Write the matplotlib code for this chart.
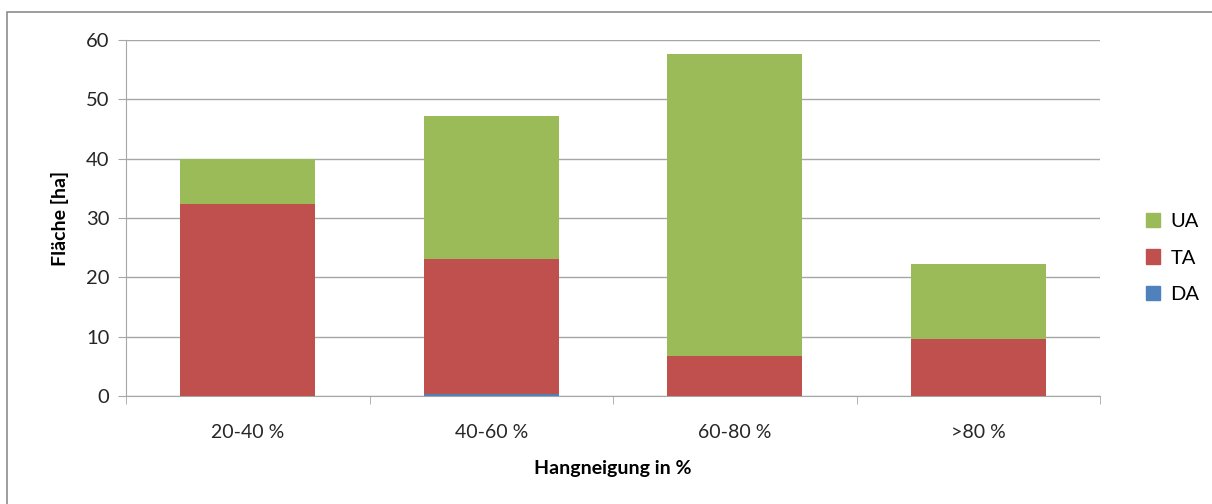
import matplotlib
matplotlib.use("Agg")
import matplotlib.pyplot as plt
from matplotlib.patches import Rectangle, Patch
import numpy as np

# Data
categories = ["20-40 %", "40-60 %", "60-80 %", ">80 %"]
da = [0.0, 0.3, 0.0, 0.0]
ta = [32.4, 22.8, 6.8, 9.6]
ua = [7.5, 24.1, 50.9, 12.6]

plt.rcParams['font.family'] = ['Lato', 'DejaVu Sans']

fig = plt.figure(figsize=(12.12, 5.04), dpi=100)
ax = fig.add_axes([126 / 1212, 1 - 396 / 504, (1100 - 126) / 1212, (396 - 40) / 504])

x = np.arange(len(categories))
width = 0.555
c_da, c_ta, c_ua = '#4F81BD', '#C0504D', '#9BBB59'

ax.bar(x, da, width, color=c_da, zorder=3)
ax.bar(x, ta, width, bottom=da, color=c_ta, zorder=3)
bottom_ua = np.array(da) + np.array(ta)
ax.bar(x, ua, width, bottom=bottom_ua, color=c_ua, zorder=3)

ax.set_xlim(-0.5, len(categories) - 0.5)
ax.set_ylim(0, 60)
ax.set_yticks(range(0, 61, 10))
ax.yaxis.grid(True, color='#A6A6A6', linewidth=1.0, zorder=0)

ax.set_xticks(x)
ax.set_xticklabels(categories, fontsize=14, color='#262626')
ax.set_xticks(np.arange(-0.5, len(categories)), minor=True)
ax.tick_params(axis='x', which='major', length=0, pad=20)
ax.tick_params(axis='x', which='minor', length=6, color='#A6A6A6', direction='out')
ax.tick_params(axis='y', length=6, color='#A6A6A6', labelsize=14.5, labelcolor='#262626', pad=6)

for side in ['top', 'right']:
    ax.spines[side].set_visible(False)
for side in ['left', 'bottom']:
    ax.spines[side].set_color('#A6A6A6')

ax.set_ylabel('Fläche [ha]', fontsize=14, fontweight='bold', labelpad=12)
ax.set_xlabel('Hangneigung in %', fontsize=14, fontweight='bold', labelpad=14)

handles = [Patch(color=c_ua, label='UA'), Patch(color=c_ta, label='TA'), Patch(color=c_da, label='DA')]
fig.legend(handles=handles, loc='center left', bbox_to_anchor=(1128 / 1212, 1 - 258 / 504),
           frameon=False, fontsize=14.5, handlelength=0.7, handleheight=0.7,
           handletextpad=0.5, labelspacing=0.95)

# outer chart border
fig.patches.append(Rectangle((7 / 1212, -0.01), 1.02, 1 - 12 / 504 + 0.01,
                             transform=fig.transFigure, fill=False,
                             edgecolor='#8C8C8C', linewidth=1.2))

fig.savefig('out.png', dpi=100)
